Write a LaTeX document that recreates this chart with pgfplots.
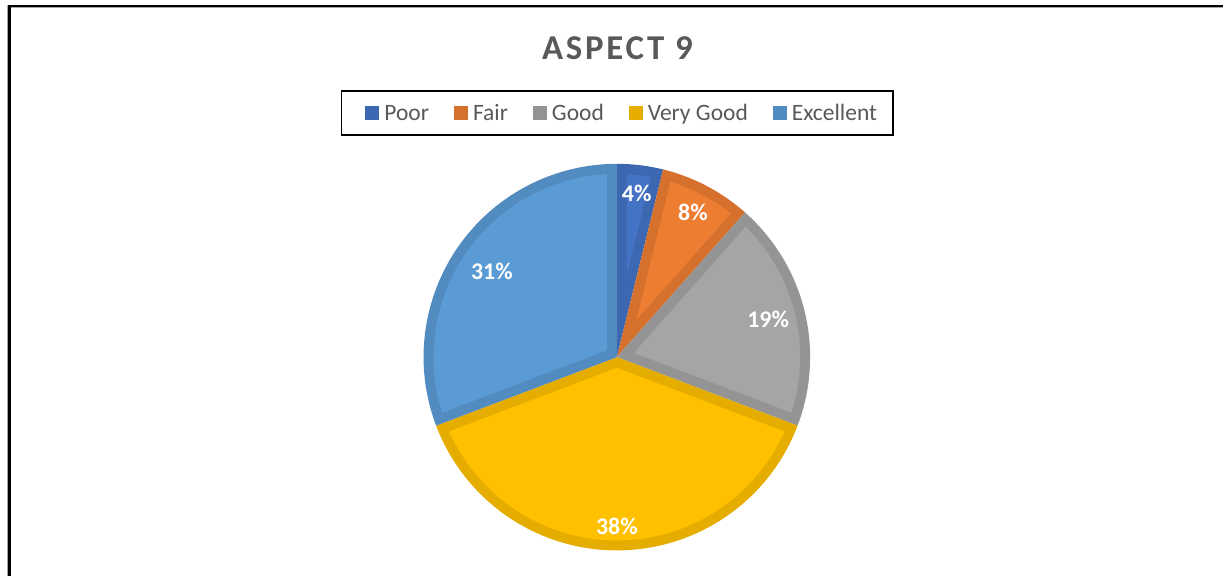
\documentclass[border=0pt]{standalone}
\usepackage{pgfplots}
\pgfplotsset{compat=1.18}
\usepackage{pgfplotstable}
\usepackage{fontspec}
\setmainfont{Carlito}
\definecolor{poorc}{HTML}{4472C4}
\definecolor{fairc}{HTML}{ED7D31}
\definecolor{goodc}{HTML}{A5A5A5}
\definecolor{vgoodc}{HTML}{FFC000}
\definecolor{excc}{HTML}{5B9BD5}
\definecolor{txtgray}{HTML}{595959}

% counts of answers per rating (label = rounded percentage)
\pgfplotstableread{
name count pct lr
Poor 1 4 165
Fair 2 8 164
Good 5 19 156
VeryGood 10 38 169
Excellent 8 31 152
}\piedata

\def\cx{617.5}
\def\cy{219.5}
\def\R{193.5}
\def\bw{10}

\def\total{0}
\pgfplotsforeachungrouped \i in {0,...,4}{%
  \pgfplotstablegetelem{\i}{count}\of\piedata
  \pgfmathsetmacro\total{\total+\pgfplotsretval}%
}
\def\cum{0}
\pgfplotsforeachungrouped \i in {0,...,4}{%
  \pgfplotstablegetelem{\i}{count}\of\piedata
  \pgfmathsetmacro\angs{90-360*\cum/\total}%
  \pgfmathsetmacro\cum{\cum+\pgfplotsretval}%
  \pgfmathsetmacro\ange{90-360*\cum/\total}%
  \pgfmathsetmacro\halfang{(\angs-\ange)/2}%
  \pgfmathsetmacro\midang{(\angs+\ange)/2}%
  \pgfmathsetmacro\dlt{asin(\bw/(\R-\bw))}%
  \pgfmathsetmacro\vrad{\bw/sin(\halfang)}%
  \pgfmathsetmacro\vxx{\cx+\vrad*cos(\midang)}%
  \pgfmathsetmacro\vyy{\cy+\vrad*sin(\midang)}%
  \pgfmathsetmacro\ins{\angs-\dlt}%
  \pgfmathsetmacro\ine{\ange+\dlt}%
  \expandafter\xdef\csname angS\i\endcsname{\angs}%
  \expandafter\xdef\csname angE\i\endcsname{\ange}%
  \expandafter\xdef\csname inS\i\endcsname{\ins}%
  \expandafter\xdef\csname inE\i\endcsname{\ine}%
  \expandafter\xdef\csname vx\i\endcsname{\vxx}%
  \expandafter\xdef\csname vy\i\endcsname{\vyy}%
}
\pgfplotstablecreatecol[create col/expr accum={\pgfmathaccuma + \thisrow{count}}{0}]{cum}\piedata
\pgfplotstablecreatecol[create col/expr={\cx+\thisrow{lr}*cos(90-360*(\thisrow{cum}-0.5*\thisrow{count})/\total)}]{lx}\piedata
\pgfplotstablecreatecol[create col/expr={\cy+\thisrow{lr}*sin(90-360*(\thisrow{cum}-0.5*\thisrow{count})/\total)}]{ly}\piedata

\newcommand\pieslice[3]{%
  \addplot[fill=#2!90!black, draw=none, domain=\csname angE#1\endcsname:\csname angS#1\endcsname, samples=120, variable=\t]
    ({\cx+\R*cos(\t)},{\cy+\R*sin(\t)}) -- (axis cs:\cx,\cy) -- cycle;
  \addlegendentry{#3}
  \addplot[fill=#2, draw=none, forget plot, domain=\csname inE#1\endcsname:\csname inS#1\endcsname, samples=120, variable=\t]
    ({\cx+(\R-\bw)*cos(\t)},{\cy+(\R-\bw)*sin(\t)}) -- (axis cs:\csname vx#1\endcsname,\csname vy#1\endcsname) -- cycle;
}

\begin{document}
\begin{tikzpicture}
\begin{axis}[
  scale only axis, width=1224bp, height=577bp,
  xmin=0, xmax=1224, ymin=0, ymax=577,
  hide axis, clip=false,
  legend columns=5,
  legend image code/.code={\path (0bp,0bp); \fill[#1] (8bp,-6.8bp) rectangle (22bp,6.8bp);},
  legend style={at={(0.5048,0.8037)}, anchor=center, draw=black, line width=1.5bp,
    inner xsep=16bp, inner ysep=9.75bp, text=txtgray,
    font=\fontsize{23.6}{28}\selectfont,
    nodes={inner sep=0pt, text height=19.4bp, text depth=5bp},
    /tikz/every odd column/.append style={column sep=5bp},
    /tikz/every even column/.append style={column sep=17bp}},
]
\path (axis cs:0,0) rectangle (axis cs:1224,577);
\pieslice{0}{poorc}{Poor}
\pieslice{1}{fairc}{Fair}
\pieslice{2}{goodc}{Good}
\pieslice{3}{vgoodc}{Very Good}
\pieslice{4}{excc}{Excellent}
\addplot[forget plot, draw=none, mark=none, point meta=explicit symbolic,
  nodes near coords={\pgfplotspointmeta\%},
  nodes near coords style={anchor=center, text=white, inner sep=0pt, font=\bfseries\fontsize{24}{28}\selectfont}]
  table[x=lx, y=ly, meta=pct]{\piedata};
\node[font=\bfseries\fontsize{35}{40}\selectfont\addfontfeatures{LetterSpace=8}, text=txtgray, anchor=base]
  at (axis cs:618,517.7) {ASPECT 9};
\draw[gray!70, line width=1bp] (axis cs:7.8,0) -- (axis cs:7.8,572);
\draw[gray!70, line width=0.8bp] (axis cs:11,569.4) -- (axis cs:1224,569.4);
\draw[black, line width=2.6bp] (axis cs:9.7,0) -- (axis cs:9.7,571) -- (axis cs:1224,571);
\end{axis}
\end{tikzpicture}
\end{document}
